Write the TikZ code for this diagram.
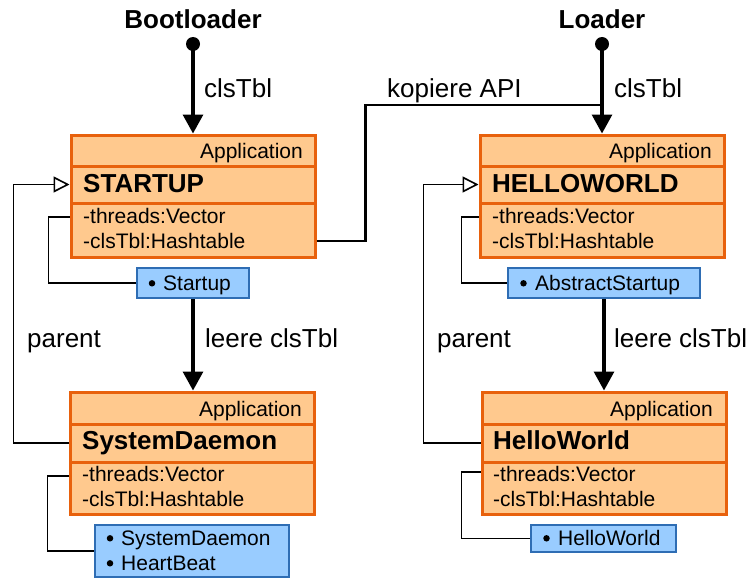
\documentclass[tikz,border=0pt]{standalone}
\usepackage{fontspec}
\setmainfont{Liberation Sans}
\usetikzlibrary{arrows.meta}
\definecolor{clsfill}{HTML}{FFC98E}
\definecolor{clsdraw}{HTML}{E8610C}
\definecolor{objfill}{HTML}{99CCFF}
\definecolor{objdraw}{HTML}{2E6DB4}
\begin{document}
\begin{tikzpicture}[x=1pt,y=-1pt,
  row/.style={draw=clsdraw, fill=clsfill, line width=3pt, inner sep=0pt, minimum width=244pt},
  obj/.style={draw=objdraw, fill=objfill, line width=2.8pt, inner sep=0pt},
  apptxt/.style={font=\fontsize{21}{25}\selectfont, anchor=base east, inner sep=0pt},
  nametxt/.style={font=\fontsize{26}{30}\selectfont\bfseries, anchor=base west, inner sep=0pt},
  attrtxt/.style={font=\fontsize{21}{25}\selectfont, anchor=base west, inner sep=0pt,
    text height=15pt, text depth=4pt},
  bullet/.style={circle, fill=black, inner sep=0pt, minimum size=6.5pt},
  lbl/.style={font=\fontsize{26}{30}\selectfont, anchor=base west, inner sep=0pt},
  head/.style={font=\fontsize{26}{30}\selectfont\bfseries, anchor=base, inner sep=0pt},
  flow/.style={line width=3.2pt, -{Triangle[length=19pt,width=20pt]}},
  inherit/.style={line width=1.6pt, -{Triangle[open,length=16pt,width=16pt,fill=white]}},
  link/.style={line width=1.6pt},
  apiline/.style={line width=2.8pt},
  root/.style={circle, fill=black, inner sep=0pt, minimum size=14pt},
]
\useasboundingbox (0,0) rectangle (754,578);

% ---- class STARTUP ----
\node[row, minimum height=31pt] (s-app)  at (193,150.5) {};
\node[row, minimum height=37pt] (s-name) at (193,184.5) {};
\node[row, minimum height=54pt] (s-attr) at (193,230) {};
\node[apptxt]  (s-t1) at (303,158) {Application};
\node[nametxt] (s-t2) at (83,192) {STARTUP};
\node[attrtxt] (s-t3) at (83,223) {-threads:Vector};
\node[attrtxt] (s-t4) at (83,248) {-clsTbl:Hashtable};

% ---- class SystemDaemon ----
\node[row, minimum height=32pt] (sd-app)  at (192,408) {};
\node[row, minimum height=38pt] (sd-name) at (192,443) {};
\node[row, minimum height=52pt] (sd-attr) at (192,488) {};
\node[apptxt]  (sd-t1) at (302,416) {Application};
\node[nametxt] (sd-t2) at (82,449) {SystemDaemon};
\node[attrtxt] (sd-t3) at (82,481) {-threads:Vector};
\node[attrtxt] (sd-t4) at (82,506) {-clsTbl:Hashtable};

% ---- class HELLOWORLD ----
\node[row, minimum height=31pt] (h-app)  at (602,150.5) {};
\node[row, minimum height=37pt] (h-name) at (602,184.5) {};
\node[row, minimum height=54pt] (h-attr) at (602,230) {};
\node[apptxt]  (h-t1) at (712,158) {Application};
\node[nametxt] (h-t2) at (492,192) {HELLOWORLD};
\node[attrtxt] (h-t3) at (492,223) {-threads:Vector};
\node[attrtxt] (h-t4) at (492,248) {-clsTbl:Hashtable};

% ---- class HelloWorld ----
\node[row, minimum height=32pt] (w-app)  at (604,408) {};
\node[row, minimum height=38pt] (w-name) at (604,443) {};
\node[row, minimum height=52pt] (w-attr) at (604,488) {};
\node[apptxt]  (w-t1) at (713,416) {Application};
\node[nametxt] (w-t2) at (493,449) {HelloWorld};
\node[attrtxt] (w-t3) at (493,481) {-threads:Vector};
\node[attrtxt] (w-t4) at (493,506) {-clsTbl:Hashtable};

% ---- thread objects ----
\node[obj, minimum width=112pt, minimum height=30pt] (sb)  at (193,283) {};
\node[bullet]  (sb-b) at (152,283.3) {};
\node[attrtxt] (sb-t) at (163,290) {Startup};
\node[obj, minimum width=192pt, minimum height=30pt] (hb)  at (604,283) {};
\node[bullet]  (hb-b) at (523.5,283.3) {};
\node[attrtxt] (hb-t) at (535,290) {AbstractStartup};
\node[obj, minimum width=194pt, minimum height=52pt] (sdb) at (192,551) {};
\node[bullet]  (sdb-b1) at (110,538.3) {};
\node[attrtxt] (sdb-t1) at (121,545) {SystemDaemon};
\node[bullet]  (sdb-b2) at (110,563.3) {};
\node[attrtxt] (sdb-t2) at (121,570) {HeartBeat};
\node[obj, minimum width=145pt, minimum height=27pt] (wb)  at (603.5,538.5) {};
\node[bullet]  (wb-b) at (546.5,538.3) {};
\node[attrtxt] (wb-t) at (558,545) {HelloWorld};

% ---- loaders ----
\node[head] (bl-t) at (193,29) {Bootloader};
\node[head] (ld-t) at (602,29) {Loader};
\node[root] (bl) at (193,44) {};
\node[root] (ld) at (602,44) {};
\coordinate (api) at (602,105);

% ---- connectors ----
\draw[flow] (bl.center) -- (s-app.north);
\draw[flow] (ld.center) -- (h-app.north);
\draw[flow] (sb.south) -- (sb.south |- sd-app.north);
\draw[flow] (hb.south) -- (hb.south |- w-app.north);
\draw[apiline] ([yshift=-11pt]s-attr.east) -- ++(49,0) |- (api);

\draw[inherit] (sd-name.west) -- ++(-55,0) |- (s-name.west);
\draw[inherit] (w-name.west) -- ++(-57,0) |- (h-name.west);

\draw[link] ([yshift=13pt]s-attr.west) -- ++(-21,0) |- (sb.west);
\draw[link] ([yshift=12pt]sd-attr.west) -- ++(-21,0) |- (sdb.west);
\draw[link] ([yshift=13pt]h-attr.west) -- ++(-17,0) |- (hb.west);
\draw[link] ([yshift=16pt]w-attr.west) -- ++(-19,0) |- (wb.west);

% ---- labels ----
\node[lbl] (l1) at (204,97) {clsTbl};
\node[lbl] (l2) at (387,97) {kopiere API};
\node[lbl] (l3) at (614,97) {clsTbl};
\node[lbl] (l4) at (27,347) {parent};
\node[lbl] (l5) at (205,347) {leere clsTbl};
\node[lbl] (l6) at (437,347) {parent};
\node[lbl] (l7) at (614,347) {leere clsTbl};
\end{tikzpicture}
\end{document}
